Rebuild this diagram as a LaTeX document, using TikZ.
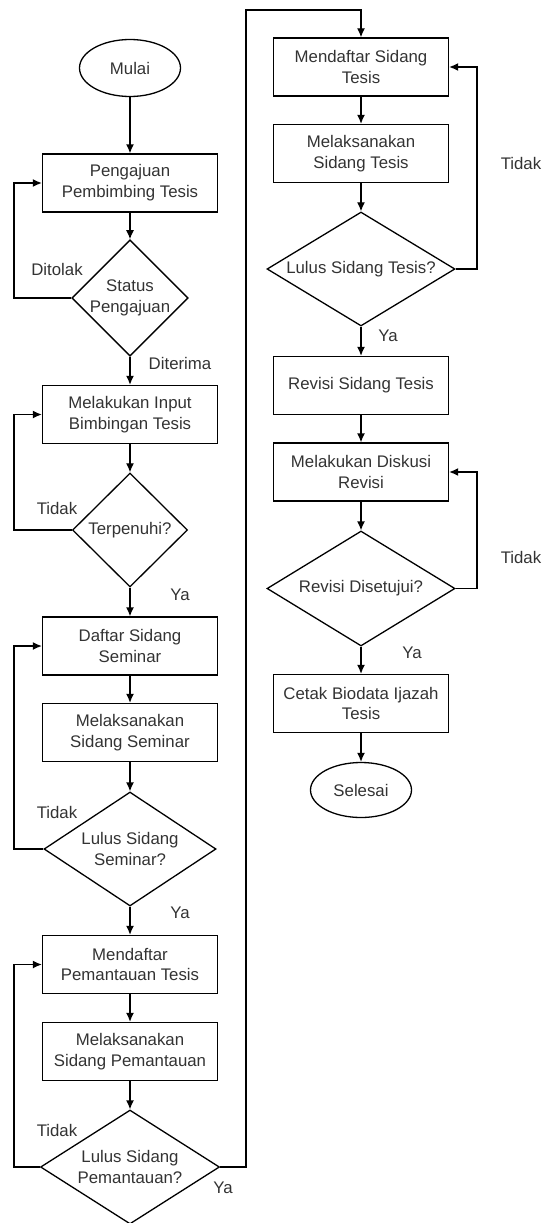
\documentclass[tikz,border=0pt]{standalone}
\usepackage{fontspec}
\setmainfont{Liberation Sans}
\usetikzlibrary{arrows.meta,shapes.geometric,positioning}

\begin{document}
\begin{tikzpicture}[x=1pt, y=-1pt, line width=1.3pt, >={Latex[length=9pt,width=8pt]},
  every node/.style={font=\fontsize{16.8}{20.7}\selectfont, text=black!80},
  kotak/.style={draw=black, minimum width=175pt, minimum height=58pt, inner sep=0pt, align=center},
  keputusan/.style={draw=black, diamond, inner sep=0pt, align=center},
  terminal/.style={draw=black, ellipse, minimum width=101pt, minimum height=57pt, inner sep=0pt},
  ket/.style={inner sep=0pt}]

\useasboundingbox (0,0) rectangle (542,1223);

% Kolom kiri
\node[terminal] (mulai) at (130,68) {Mulai};
\node[kotak] (ajuan) at (130,183) {Pengajuan\\Pembimbing Tesis};
\node[keputusan, aspect=1, minimum width=115pt, minimum height=113pt] (status) at (130,298) {Status\\Pengajuan};
\node[kotak] (input) at (130,414.5) {Melakukan Input\\Bimbingan Tesis};
\node[keputusan, minimum width=115pt, minimum height=114pt] (penuh) at (130,530) {Terpenuhi?};
\node[kotak] (daftarsem) at (130,646) {Daftar Sidang\\Seminar};
\node[kotak] (sidangsem) at (130,732.5) {Melaksanakan\\Sidang Seminar};
\node[keputusan, aspect=1.5, minimum width=172pt, minimum height=114pt] (lulussem) at (130,849) {Lulus Sidang\\Seminar?};
\node[kotak] (daftarpan) at (130,964.5) {Mendaftar\\Pemantauan Tesis};
\node[kotak] (sidangpan) at (130,1051.5) {Melaksanakan\\Sidang Pemantauan};
\node[keputusan, aspect=1.57, minimum width=179pt, minimum height=114pt] (luluspan) at (130,1167) {Lulus Sidang\\Pemantauan?};

% Kolom kanan
\node[kotak] (daftartes) at (361,67) {Mendaftar Sidang\\Tesis};
\node[kotak] (sidangtes) at (361,153.5) {Melaksanakan\\Sidang Tesis};
\node[keputusan, aspect=1.65, minimum width=188pt, minimum height=114pt] (lulustes) at (361,269) {Lulus Sidang Tesis?};
\node[kotak] (revisi) at (361,385.5) {Revisi Sidang Tesis};
\node[kotak] (diskusi) at (361,472) {Melakukan Diskusi\\Revisi};
\node[keputusan, aspect=1.65, minimum width=188pt, minimum height=115pt] (setuju) at (361,588.5) {Revisi Disetujui?};
\node[kotak] (cetak) at (361,703.5) {Cetak Biodata Ijazah\\Tesis};
\node[terminal, minimum height=55pt] (selesai) at (361,790) {Selesai};

% Keterangan
\node[ket] (tolak) at (57,269) {Ditolak};
\node[ket] (terima) at (180,363) {Diterima};
\node[ket] (tidaka) at (57,508) {Tidak};
\node[ket] (yaa) at (180,595) {Ya};
\node[ket] (tidakb) at (57,812) {Tidak};
\node[ket] (yab) at (180,913) {Ya};
\node[ket] (tidakc) at (57,1130) {Tidak};
\node[ket] (yac) at (223,1188) {Ya};
\node[ket] (tidakd) at (521,163) {Tidak};
\node[ket] (yad) at (388,336) {Ya};
\node[ket] (tidake) at (521,557) {Tidak};
\node[ket] (yae) at (412,653) {Ya};

\coordinate (kiri) at (14,0);
\coordinate (kanan) at (477,0);
\coordinate (atas) at (246,10);

% Panah utama
\foreach \a/\b in {mulai/ajuan, ajuan/status, status/input, input/penuh, penuh/daftarsem,
    daftarsem/sidangsem, sidangsem/lulussem, lulussem/daftarpan, daftarpan/sidangpan,
    sidangpan/luluspan, daftartes/sidangtes, sidangtes/lulustes, lulustes/revisi,
    revisi/diskusi, diskusi/setuju, setuju/cetak, cetak/selesai}
  \draw[->] (\a) -- (\b);

% Umpan balik kiri
\draw[->] (status.west) -- (status.west -| kiri) |- (ajuan.west);
\draw[->] (penuh.west) -- (penuh.west -| kiri) |- (input.west);
\draw[->] (lulussem.west) -- (lulussem.west -| kiri) |- (daftarsem.west);
\draw[->] (luluspan.west) -- (luluspan.west -| kiri) |- (daftarpan.west);

% Sambungan ke kolom kanan
\draw[->] (luluspan.east) -| (atas) -| (daftartes.north);

% Umpan balik kanan
\draw[->] (lulustes.east) -- (lulustes.east -| kanan) |- (daftartes.east);
\draw[->] (setuju.east) -- (setuju.east -| kanan) |- (diskusi.east);

\end{tikzpicture}
\end{document}
